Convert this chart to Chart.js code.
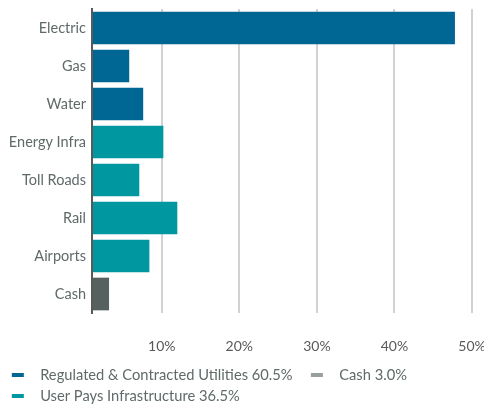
<!DOCTYPE html>
<html>
<head>
<meta charset="utf-8">
<script src="https://cdn.jsdelivr.net/npm/chart.js@4.4.1/dist/chart.umd.min.js"></script>
<style>
  html, body { margin: 0; padding: 0; background: #ffffff; }
  #wrap { width: 484px; height: 406px; }
</style>
</head>
<body>
<div id="wrap"><canvas id="c" width="484" height="406"></canvas></div>
<script>
const categories = ['Electric', 'Gas', 'Water', 'Energy Infra', 'Toll Roads', 'Rail', 'Airports', 'Cash'];
const utilitiesValues = [47.8, 5.8, 7.6, null, null, null, null, null];
const cashValues = [null, null, null, null, null, null, null, 3.2];
const userPaysValues = [null, null, null, 10.2, 7.1, 12.0, 8.4, null];
const legendLabels = ['Regulated & Contracted Utilities 60.5%', 'Cash 3.0%', 'User Pays Infrastructure 36.5%'];
const xTickValues = [1, 10, 20, 30, 40, 50];
const xTickLabels = ['', '10%', '20%', '30%', '40%', '50%'];

const FONT = 'Lato';
const TEXT_GRAY = '#5f6a69';

function markerCanvas(color) {
  const c = document.createElement('canvas');
  c.width = 33; c.height = 4;
  const g = c.getContext('2d');
  g.fillStyle = color;
  g.fillRect(12, 0, 12, 4);
  return c;
}

const barColors = ['#006795', '#56615f', '#0097a0'];
const legendColors = ['#006795', '#97a09e', '#0097a0'];
const markers = legendColors.map(markerCanvas);

const shiftPlugin = {
  id: 'shiftLegend',
  afterLayout(chart) {
    const l = chart.legend;
    if (!l) return;
    l.top += 7.35; l.bottom += 7.35;
    l.left -= 6.5;
  }
};

new Chart(document.getElementById('c'), {
  type: 'bar',
  data: {
    labels: categories,
    datasets: [
      { label: legendLabels[0], data: utilitiesValues, backgroundColor: barColors[0] },
      { label: legendLabels[1], data: cashValues, backgroundColor: barColors[1] },
      { label: legendLabels[2], data: userPaysValues, backgroundColor: barColors[2] }
    ]
  },
  options: {
    indexAxis: 'y',
    responsive: false,
    animation: false,
    devicePixelRatio: 1,
    layout: { padding: { top: 9, right: 0, left: 0, bottom: 0 } },
    datasets: { bar: { categoryPercentage: 1, barPercentage: 0.86, borderWidth: 0 } },
    scales: {
      x: {
        stacked: true,
        min: 1,
        max: 50,
        afterBuildTicks(scale) { scale.ticks = xTickValues.map(v => ({ value: v })); },
        afterFit(scale) { scale.height = 41; scale.paddingLeft = 0; scale.paddingRight = 12; },
        grid: { color: '#d2d2d2', lineWidth: 2, drawTicks: false },
        border: { display: false },
        ticks: {
          padding: 25,
          color: '#595959',
          font: { family: FONT, size: 14 },
          maxRotation: 0,
          callback(value, index) { return xTickLabels[index]; }
        }
      },
      y: {
        stacked: true,
        afterFit(scale) { scale.width = 92; scale.paddingTop = 0; scale.paddingBottom = 0; },
        grid: { display: false, drawTicks: false },
        border: { display: true, color: '#595959', width: 2, z: 1 },
        ticks: {
          padding: 6,
          color: TEXT_GRAY,
          font: { family: FONT, size: 14.5 }
        }
      }
    },
    plugins: {
      tooltip: { enabled: false },
      legend: {
        position: 'bottom',
        align: 'start',
        labels: {
          usePointStyle: true,
          pointStyleWidth: 33,
          padding: 6.3,
          color: TEXT_GRAY,
          font: { family: FONT, size: 14.7 },
          generateLabels(chart) {
            return chart.data.datasets.map((ds, i) => ({
              text: legendLabels[i],
              fillStyle: legendColors[i],
              strokeStyle: legendColors[i],
              lineWidth: 0,
              pointStyle: markers[i],
              hidden: false,
              datasetIndex: i,
              fontColor: TEXT_GRAY
            }));
          }
        }
      }
    }
  },
  plugins: [shiftPlugin]
});
</script>
</body>
</html>
